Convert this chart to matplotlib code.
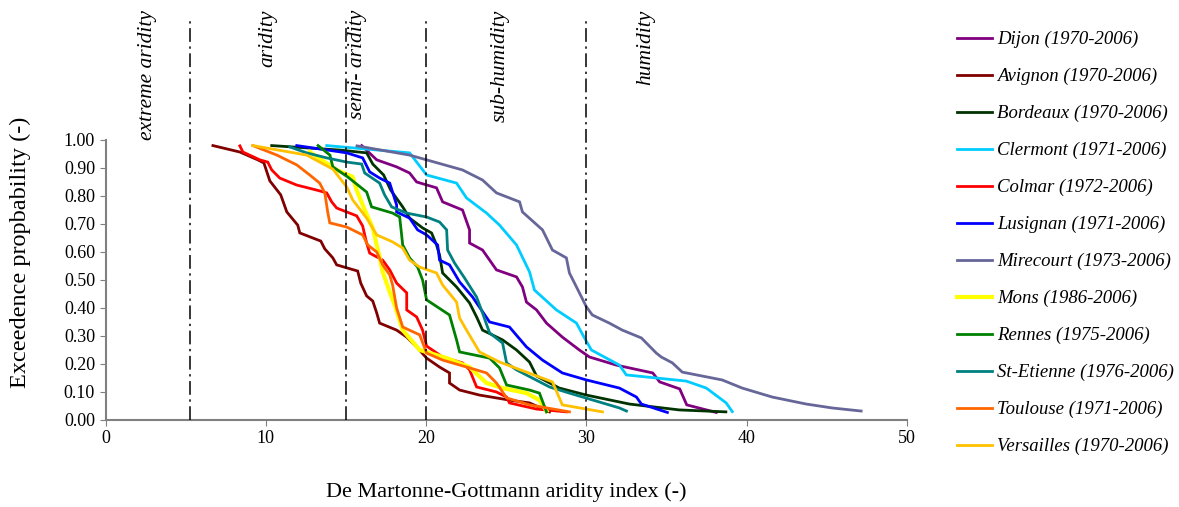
import matplotlib.pyplot as plt

# aridity index (x) and exceedance probability (y) per station
dijon_x = [15.98, 16.92, 18.16, 18.97, 19.41, 20.65, 21.03, 22.27, 22.71, 22.71, 23.52, 24.39, 25.64, 26.01,
           26.26, 26.89, 27.51, 28.5, 29.56, 30.19, 31.87, 34.14, 34.57, 35.82, 36.26, 38.1]
dijon_y = [0.98, 0.929, 0.904, 0.882, 0.85, 0.829, 0.779, 0.75, 0.679, 0.632, 0.607, 0.536, 0.511, 0.475,
           0.421, 0.393, 0.346, 0.296, 0.25, 0.225, 0.196, 0.168, 0.136, 0.111, 0.054, 0.027]

avignon_x = [6.7, 8.38, 9.5, 9.88, 10.25, 10.93, 11.31, 11.99, 12.12, 13.43, 13.68, 14.18, 14.42, 15.73,
             15.92, 16.29, 16.67, 16.92, 17.1, 18.16, 18.79, 19.41, 20.03, 20.84, 21.46, 21.46, 22.09,
             23.33, 25.2, 26.45, 27.7]
avignon_y = [0.98, 0.957, 0.929, 0.918, 0.854, 0.804, 0.743, 0.696, 0.668, 0.639, 0.611, 0.579, 0.554, 0.532,
             0.489, 0.443, 0.425, 0.382, 0.346, 0.321, 0.296, 0.261, 0.221, 0.189, 0.168, 0.132, 0.107,
             0.089, 0.071, 0.061, 0.029]

bordeaux_x = [10.37, 14.61, 16.29, 16.67, 17.35, 17.79, 18.54, 18.97, 19.78, 20.34, 20.65, 20.84, 21.03,
              21.9, 22.71, 23.15, 23.52, 24.77, 25.64, 26.45, 26.89, 28.31, 30.0, 32.68, 35.79, 38.7]
bordeaux_y = [0.98, 0.964, 0.954, 0.914, 0.875, 0.821, 0.761, 0.721, 0.686, 0.668, 0.625, 0.589, 0.525,
              0.475, 0.418, 0.368, 0.321, 0.286, 0.25, 0.207, 0.157, 0.114, 0.089, 0.057, 0.036, 0.029]

clermont_x = [13.8, 18.97, 20.03, 21.9, 22.52, 23.77, 24.58, 25.64, 26.45, 26.76, 28.13, 29.38, 29.88,
              30.31, 32.06, 32.49, 36.23, 37.48, 38.72, 39.1]
clermont_y = [0.98, 0.954, 0.875, 0.846, 0.793, 0.739, 0.696, 0.625, 0.529, 0.464, 0.393, 0.346, 0.293,
              0.25, 0.196, 0.161, 0.139, 0.114, 0.061, 0.03]

colmar_x = [8.38, 8.57, 9.63, 10.12, 10.37, 10.87, 11.93, 13.18, 13.8, 14.11, 14.42, 15.67, 16.04, 16.17,
            16.29, 16.48, 17.29, 17.73, 18.16, 18.79, 18.79, 19.41, 19.78, 20.03, 21.03, 22.27, 22.71,
            23.15, 24.39, 25.02, 25.2, 26.89, 28.75]
colmar_y = [0.979, 0.957, 0.929, 0.921, 0.893, 0.864, 0.839, 0.821, 0.811, 0.779, 0.757, 0.729, 0.693, 0.661,
            0.632, 0.596, 0.571, 0.536, 0.489, 0.454, 0.393, 0.368, 0.321, 0.264, 0.225, 0.204, 0.179,
            0.118, 0.1, 0.082, 0.061, 0.039, 0.029]

lusignan_x = [11.93, 15.05, 16.04, 16.48, 17.1, 17.73, 18.16, 18.16, 18.97, 19.47, 20.03, 20.72, 20.84,
              21.46, 22.09, 22.9, 23.96, 25.2, 26.26, 27.26, 28.5, 30.0, 32.06, 33.12, 33.43, 35.05]
lusignan_y = [0.98, 0.954, 0.936, 0.886, 0.864, 0.846, 0.768, 0.743, 0.721, 0.679, 0.661, 0.625, 0.571,
              0.554, 0.493, 0.439, 0.35, 0.332, 0.261, 0.214, 0.168, 0.143, 0.114, 0.082, 0.057, 0.027]

mirecourt_x = [15.69, 18.97, 22.27, 23.52, 24.39, 25.83, 26.01, 27.26, 27.88, 28.75, 28.94, 29.38, 30.0,
               30.37, 31.43, 32.24, 33.43, 34.36, 34.67, 35.36, 35.98, 38.47, 39.72, 41.59, 43.71, 45.33, 47.14]
mirecourt_y = [0.979, 0.946, 0.893, 0.857, 0.811, 0.779, 0.743, 0.679, 0.607, 0.579, 0.525, 0.475, 0.404,
               0.375, 0.346, 0.321, 0.293, 0.239, 0.225, 0.204, 0.171, 0.143, 0.114, 0.082, 0.057, 0.043, 0.032]

mons_x = [12.74, 14.42, 15.42, 15.67, 16.17, 16.67, 16.92, 17.1, 17.29, 17.73, 18.04, 18.54, 19.6, 21.28,
          22.71, 23.77, 24.77, 26.26, 27.07, 27.51]
mons_y = [0.957, 0.893, 0.868, 0.821, 0.75, 0.686, 0.625, 0.582, 0.529, 0.457, 0.411, 0.321, 0.25, 0.221,
          0.189, 0.132, 0.114, 0.096, 0.071, 0.032]

rennes_x = [13.26, 14.0, 14.18, 15.11, 16.29, 16.6, 17.91, 18.35, 18.54, 18.97, 19.47, 19.78, 20.03, 21.46,
            21.9, 22.09, 23.96, 24.58, 25.02, 26.45, 27.07, 27.51]
rennes_y = [0.98, 0.946, 0.904, 0.868, 0.814, 0.761, 0.739, 0.725, 0.625, 0.579, 0.546, 0.5, 0.429, 0.375,
            0.286, 0.243, 0.221, 0.186, 0.125, 0.107, 0.096, 0.029]

stetienne_x = [11.5, 12.55, 13.8, 15.05, 15.98, 16.17, 17.1, 17.41, 17.85, 18.78, 20.03, 20.84, 21.28, 21.34,
               21.77, 22.4, 23.15, 23.52, 23.96, 24.77, 25.02, 25.64, 27.7, 28.94, 32.06, 32.5]
stetienne_y = [0.975, 0.954, 0.936, 0.921, 0.914, 0.882, 0.846, 0.804, 0.761, 0.739, 0.725, 0.707, 0.679, 0.607,
               0.561, 0.507, 0.439, 0.382, 0.311, 0.275, 0.204, 0.179, 0.118, 0.096, 0.043, 0.032]

toulouse_x = [9.19, 10.69, 11.93, 12.74, 13.36, 13.68, 13.86, 13.99, 15.05, 16.04, 16.36, 16.92, 17.29,
              17.73, 17.91, 18.16, 18.54, 19.6, 20.03, 21.03, 22.71, 23.77, 24.39, 25.02, 26.45, 28.94]
toulouse_y = [0.98, 0.946, 0.911, 0.875, 0.846, 0.811, 0.743, 0.704, 0.689, 0.661, 0.625, 0.6, 0.554,
              0.518, 0.482, 0.4, 0.332, 0.304, 0.239, 0.214, 0.186, 0.168, 0.132, 0.079, 0.054, 0.029]

versailles_x = [9.19, 12.55, 14.18, 15.05, 15.42, 16.29, 16.92, 17.91, 18.54, 18.97, 19.6, 20.65, 21.03,
                21.9, 22.09, 22.52, 23.33, 24.58, 26.26, 27.88, 28.5, 31.0]
versailles_y = [0.98, 0.946, 0.896, 0.832, 0.786, 0.721, 0.661, 0.636, 0.614, 0.571, 0.546, 0.525, 0.482,
                0.421, 0.364, 0.321, 0.243, 0.207, 0.171, 0.136, 0.054, 0.029]

names = ["Dijon (1970-2006)", "Avignon (1970-2006)", "Bordeaux (1970-2006)", "Clermont (1971-2006)",
         "Colmar (1972-2006)", "Lusignan (1971-2006)", "Mirecourt (1973-2006)", "Mons (1986-2006)",
         "Rennes (1975-2006)", "St-Etienne (1976-2006)", "Toulouse (1971-2006)", "Versailles (1970-2006)"]
colors = ["#800080", "#800000", "#003300", "#00CCFF", "#FF0000", "#0000FF", "#666699", "#FFFF00",
          "#008000", "#008080", "#FF6600", "#FFC000"]

zone_limits = [5.3, 15, 20, 30]
zone_names = ["extreme aridity", "aridity", "semi- aridity", "sub-humidity", "humidity"]
zone_label_x = [2.65, 10.1, 15.7, 24.6, 33.7]

series = [(dijon_x, dijon_y), (avignon_x, avignon_y), (bordeaux_x, bordeaux_y), (clermont_x, clermont_y),
          (colmar_x, colmar_y), (lusignan_x, lusignan_y), (mirecourt_x, mirecourt_y), (mons_x, mons_y),
          (rennes_x, rennes_y), (stetienne_x, stetienne_y), (toulouse_x, toulouse_y),
          (versailles_x, versailles_y)]

plt.rcParams['font.family'] = ['Liberation Serif', 'DejaVu Serif']

fig = plt.figure(figsize=(11.79, 5.07), dpi=100)
ax = fig.add_axes([0.0895, 0.1716, 0.6798, 0.5523])

handles = []
for (xs, ys), name, c in zip(series, names, colors):
    lw = 3.0 if name.startswith("Mons") else 2.0
    h, = ax.plot(xs, ys, color=c, lw=lw, label=name, solid_joinstyle='miter')
    handles.append(h)

for xv in zone_limits:
    ax.plot([xv, xv], [0, 1.43], color='black', lw=1.1, linestyle=(0, (9, 3, 1.5, 3)),
            clip_on=False, zorder=5)

for xl, txt in zip(zone_label_x, zone_names):
    ax.text(xl, 1.465, txt, rotation=90, ha='center', va='top', fontsize=15.5,
            style='italic', transform=ax.get_xaxis_transform(), clip_on=False)

ax.set_xlim(0, 50)
ax.set_ylim(0, 1.0)
ax.set_xticks([0, 10, 20, 30, 40, 50])
ax.set_yticks([i / 10 for i in range(11)])
ax.set_yticklabels(["%.2f" % (i / 10) for i in range(11)])
ax.tick_params(axis='both', direction='out', length=4, color='#808080', labelsize=13)
for s in ['top', 'right']:
    ax.spines[s].set_visible(False)
for s in ['left', 'bottom']:
    ax.spines[s].set_color('#808080')
    ax.spines[s].set_linewidth(1.5)

ax.set_xlabel("De Martonne-Gottmann aridity index (-)", fontsize=16, labelpad=25)
ax.set_ylabel("Exceedence propbability (-)", fontsize=17.5)
ax.yaxis.set_label_coords(-0.093, 0.6)

fig.legend(handles=handles, loc='upper left', bbox_to_anchor=(0.797, 0.972), frameon=False,
           prop={'style': 'italic', 'size': 13.5}, handlelength=1.9, handletextpad=0.27,
           labelspacing=1.05)

fig.savefig("out.png", dpi=100)
